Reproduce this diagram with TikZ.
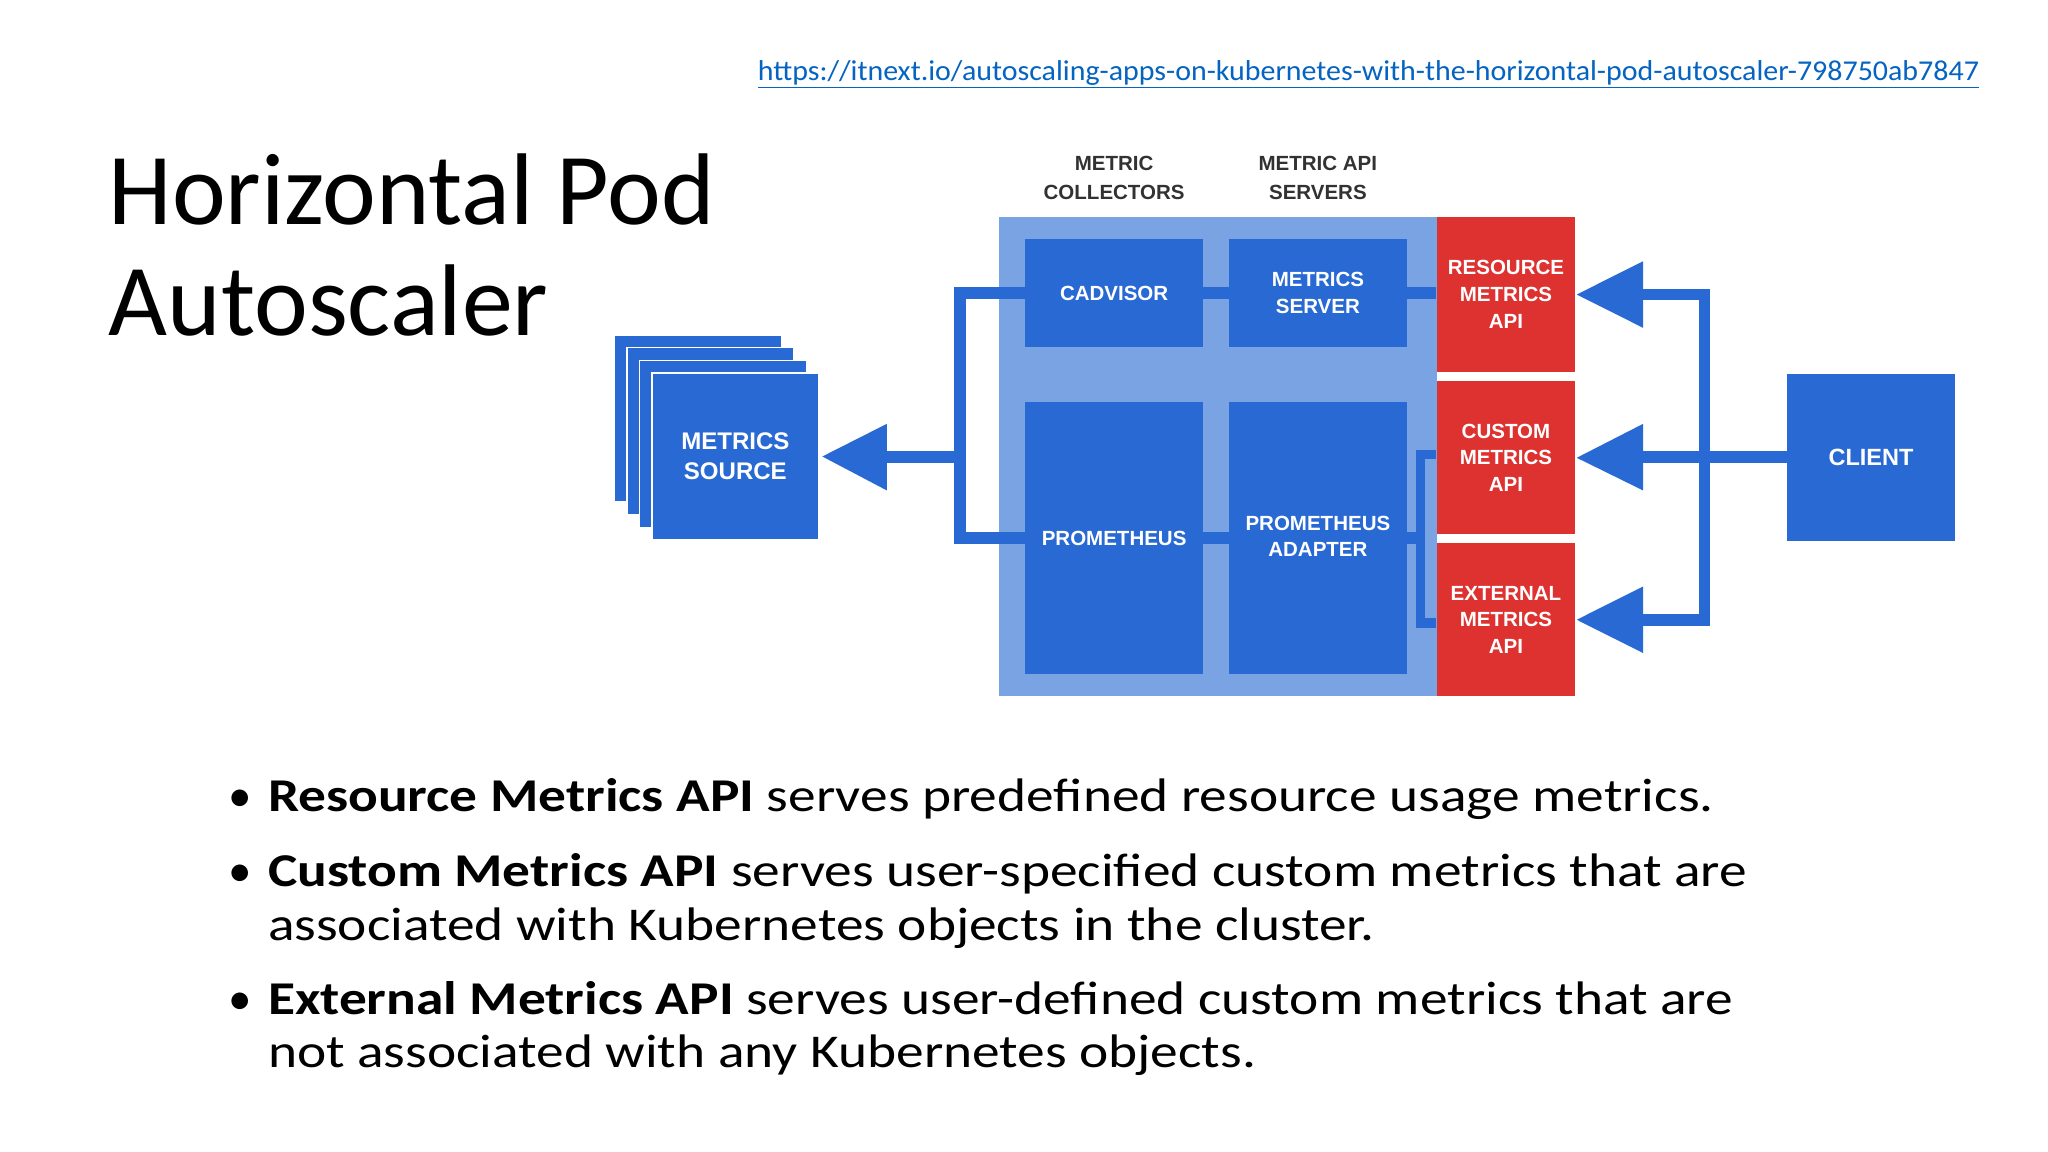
\documentclass[tikz,border=0pt]{standalone}
\usepackage{fontspec}
\setmainfont{Carlito}
\newfontfamily\boxfont{Liberation Sans}
\usetikzlibrary{calc}
\definecolor{dblue}{RGB}{40,105,212}
\definecolor{lblue}{RGB}{122,163,228}
\definecolor{apired}{RGB}{222,50,48}
\definecolor{hdrgray}{RGB}{50,50,50}
\definecolor{urlblue}{RGB}{5,99,193}
\pgfdeclarelayer{bg}
\pgfdeclarelayer{back}
\pgfdeclarelayer{links}
\pgfsetlayers{bg,back,links,main}
\tikzset{
  boxtxt/.style={text=white, font=\boxfont\bfseries\fontsize{15.7}{20.5}\selectfont, align=center, inner sep=0pt},
  dbox/.style={boxtxt, fill=dblue, draw=none, rectangle},
  rbox/.style={boxtxt, fill=apired, draw=none, rectangle, minimum width=106pt},
  card/.style={fill=dblue, draw=white, line width=1.2pt, minimum width=128pt, minimum height=128pt, inner sep=0pt},
  hdr/.style={text=hdrgray, font=\boxfont\bfseries\fontsize{15.7}{22}\selectfont, align=center, inner sep=0pt},
  conn/.style={draw=dblue, line width=9pt, line join=miter},
  thinconn/.style={draw=dblue, line width=7.5pt, line join=miter},
  tip/.style={fill=dblue, draw=none},
  body/.style={anchor=base west, inner sep=0pt, font=\fontsize{36}{40}\selectfont},
}
\newcommand{\wide}[1]{\scalebox{1.178}[1]{#1}}
\begin{document}
\begin{tikzpicture}[x=1pt,y=-1pt]
\begin{pgfonlayer}{bg}
\fill[white] (0,0) rectangle (1568,882);
\end{pgfonlayer}
\useasboundingbox (0,0) rectangle (1568,882);

% URL
\node[anchor=base west, inner sep=0pt, text=urlblue, font=\fontsize{22}{24}\selectfont] (url) at (580,62)
  {\scalebox{1.042}[1]{\underline{https://itnext.io/autoscaling-apps-on-kubernetes-with-the-horizontal-pod-autoscaler-798750ab7847}}};

% Title
\node[anchor=base west, inner sep=0pt, font=\fontsize{78}{80}\selectfont] (t1) at (83,172) {Horizontal Pod};
\node[anchor=base west, inner sep=0pt, font=\fontsize{78}{80}\selectfont] (t2) at (83,257) {Autoscaler};

% Column headers
\node[hdr] (h1) at (853,136) {METRIC\\COLLECTORS};
\node[hdr] (h2) at (1009,136) {METRIC API\\SERVERS};

% container
\begin{pgfonlayer}{back}
\node[fill=lblue, draw=none, minimum width=335pt, minimum height=367pt, inner sep=0pt] (cont) at (932.5,349.5) {};
\end{pgfonlayer}

% boxes
\node[dbox, minimum width=136pt, minimum height=83pt] (cad) at (853,224.5) {CADVISOR};
\node[dbox, minimum width=136pt, minimum height=83pt] (ms) at (1009,224.5) {METRICS\\SERVER};
\node[dbox, minimum width=136pt, minimum height=208pt] (prom) at (853,412) {PROMETHEUS};
\node[dbox, minimum width=136pt, minimum height=208pt] (pad) at (1009,412) {\raisebox{2pt}{\begin{tabular}{@{}c@{}}PROMETHEUS\\[-1.3pt]ADAPTER\end{tabular}}};
\node[rbox, minimum height=119pt] (rma) at (1153,225.5) {RESOURCE\\METRICS\\API};
\node[rbox, minimum height=117pt] (cma) at (1153,350.5) {CUSTOM\\METRICS\\API};
\node[rbox, minimum height=117pt] (ema) at (1153,474.5) {EXTERNAL\\METRICS\\API};

% client
\node[dbox, minimum width=129pt, minimum height=128pt, font=\boxfont\bfseries\fontsize{18}{22}\selectfont] (cl) at (1432.5,350) {CLIENT};

% metrics source stack
\node[card] (c1) at (534.5,320.5) {};
\node[card] (c2) at (544,330) {};
\node[card] (c3) at (553.5,340) {};
\node[card, text=white, font=\boxfont\bfseries\fontsize{18.4}{23}\selectfont, align=center] (src) at (563,349.5) {METRICS\\SOURCE};

% connectors
\coordinate (lv) at (735,350);
\coordinate (srcbase) at (679,350);
\coordinate (rv) at (1305,350);
\coordinate (rbaseA) at (1258,225.5);
\coordinate (rbaseB) at (1258,350);
\coordinate (rbaseC) at (1258,474.5);
\coordinate (adv) at (1087.5,412);
\begin{pgfonlayer}{links}
\draw[conn] (cad.west) -- (cad.west -| lv) -- (prom.west -| lv) -- (prom.west);
\draw[conn] (lv) -- (srcbase);
\draw[conn] (cad.east) -- (ms.west);
\draw[conn] (ms.east) -- (ms.east -| rma.west);
\draw[conn] (prom.east) -- (prom.east -| pad.west);
\draw[conn] (pad.east) -- (adv);
\draw[thinconn] ($(cma.west)+(0,-2.5)$) -- ($(cma.west -| adv)+(0,-2.5)$) -- ($(ema.west -| adv)+(0,2.5)$) -- ($(ema.west)+(0,2.5)$);
\draw[conn] (rbaseA) -- (rbaseA -| rv) -- (rbaseC -| rv) -- (rbaseC);
\draw[conn] (cl.west) -- (rbaseB);
\end{pgfonlayer}
% arrow heads
\fill[tip] ($(src.east)+(2,0)$) -- ($(srcbase)+(0,-25.5)$) -- ($(srcbase)+(0,25.5)$) -- cycle;
\fill[tip] ($(rma.east)+(1,0)$) -- ($(rbaseA)+(0,-25.5)$) -- ($(rbaseA)+(0,25.5)$) -- cycle;
\fill[tip] ($(cma.east)+(1,0)$) -- ($(rbaseB)+(0,-25.5)$) -- ($(rbaseB)+(0,25.5)$) -- cycle;
\fill[tip] ($(ema.east)+(1,0)$) -- ($(rbaseC)+(0,-25.5)$) -- ($(rbaseC)+(0,25.5)$) -- cycle;

% bullets
\node[body] (b1) at (175,621) {\textbullet};
\node[body] (l1) at (205,621) {\wide{\textbf{Resource Metrics API} serves predefined resource usage metrics.}};
\node[body] (b2) at (175,679) {\textbullet};
\node[body] (l2) at (205,679) {\wide{\textbf{Custom Metrics API} serves user-specified custom metrics that are}};
\node[body] (l3) at (205,720) {\wide{associated with Kubernetes objects in the cluster.}};
\node[body] (b3) at (175,777) {\textbullet};
\node[body] (l4) at (205,777) {\wide{\textbf{External Metrics API} serves user-defined custom metrics that are}};
\node[body] (l5) at (205,817) {\wide{not associated with any Kubernetes objects.}};
\end{tikzpicture}
\end{document}
